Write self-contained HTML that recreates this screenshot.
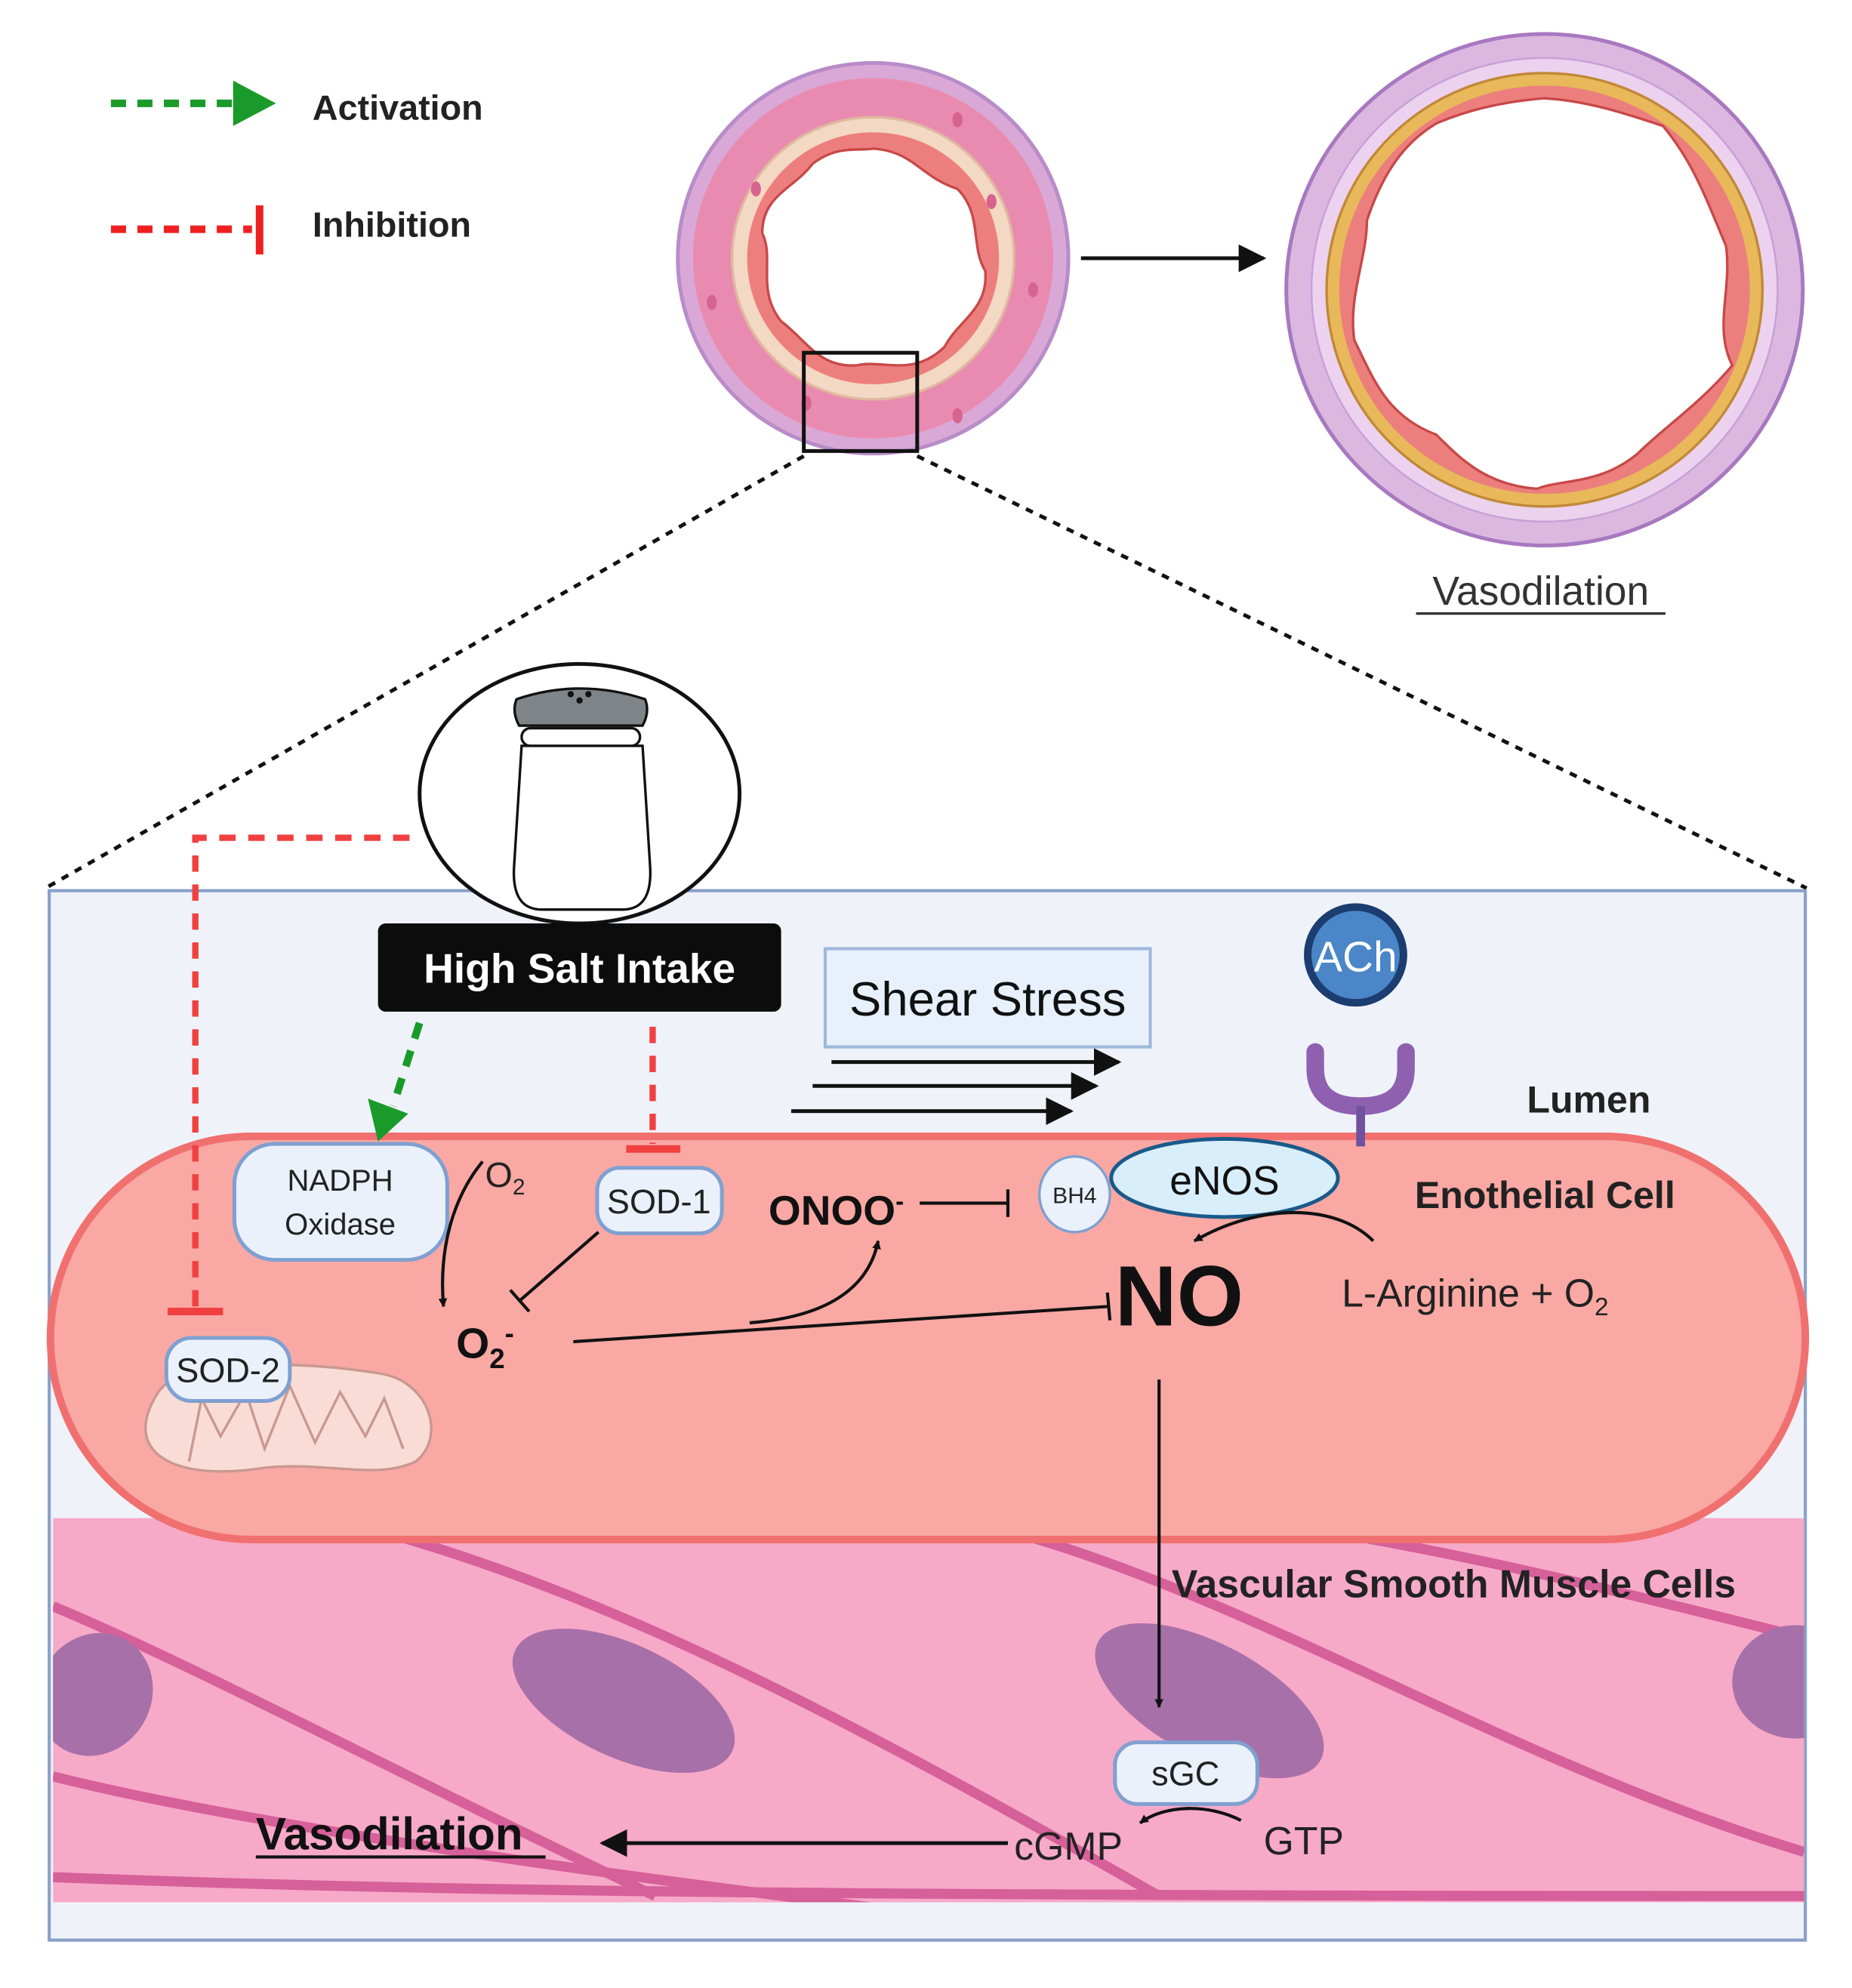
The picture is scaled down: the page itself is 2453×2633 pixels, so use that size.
<!DOCTYPE html>
<html><head><meta charset="utf-8"><style>html,body{margin:0;padding:0;background:#fff}svg{display:block}text{font-family:"Liberation Sans",sans-serif}</style></head>
<body>
<svg width="2453" height="2633" viewBox="0 0 1470 1578" xmlns="http://www.w3.org/2000/svg">
<defs>
<marker id="ah" viewBox="0 0 10 10" refX="9" refY="5" markerWidth="7" markerHeight="7" orient="auto" markerUnits="userSpaceOnUse"><path d="M0,0 L10,5 L0,10z" fill="#111"/></marker>
<marker id="ahb" viewBox="0 0 10 10" refX="9" refY="5" markerWidth="22" markerHeight="22" orient="auto" markerUnits="userSpaceOnUse"><path d="M0,0 L10,5 L0,10z" fill="#111"/></marker>
<clipPath id="smc"><rect x="42" y="1205" width="1390" height="305"/></clipPath>
</defs>
<rect width="1470" height="1578" fill="#fff"/>
<!-- legend -->
<line x1="88" y1="82" x2="185" y2="82" stroke="#1a9a2a" stroke-width="6" stroke-dasharray="12,9"/>
<path d="M185,64 L219,82 L185,100z" fill="#1a9a2a"/>
<text x="248" y="95" font-size="28" font-weight="bold" fill="#222">Activation</text>
<line x1="88" y1="182" x2="200" y2="182" stroke="#f02020" stroke-width="6" stroke-dasharray="12,9"/>
<line x1="206" y1="163" x2="206" y2="202" stroke="#f02020" stroke-width="6"/>
<text x="248" y="188" font-size="28" font-weight="bold" fill="#222">Inhibition</text>
<!-- left vessel -->
<ellipse cx="693" cy="205" rx="155" ry="155" fill="#d9a8d6" stroke="#b88cc8" stroke-width="3"/>
<ellipse cx="693" cy="205" rx="143" ry="143" fill="#e98bb0"/>
<ellipse cx="693" cy="205" rx="112" ry="112" fill="#f3d8c4" stroke="#e0b8a0" stroke-width="2"/>
<ellipse cx="693" cy="205" rx="100" ry="100" fill="#ec7f7d"/>
<path d="M693,118 C725,120 730,140 760,150 C780,170 770,195 782,215 C785,245 760,255 750,275 C725,300 700,285 680,290 C650,292 640,270 620,255 C600,230 615,205 605,185 C605,155 630,150 645,130 C665,115 680,120 693,118z" fill="#fff" stroke="#c84848" stroke-width="2"/>
<g fill="#d7648e"><ellipse cx="600" cy="150" rx="4" ry="6"/><ellipse cx="787" cy="160" rx="4" ry="6"/><ellipse cx="565" cy="240" rx="4" ry="6"/><ellipse cx="820" cy="230" rx="4" ry="6"/><ellipse cx="760" cy="95" rx="4" ry="6"/><ellipse cx="640" cy="320" rx="4" ry="6"/><ellipse cx="760" cy="330" rx="4" ry="6"/></g>
<rect x="638" y="280" width="90" height="78" fill="none" stroke="#111" stroke-width="3"/>
<line x1="858" y1="205" x2="1003" y2="205" stroke="#111" stroke-width="3" marker-end="url(#ahb)"/>
<!-- right vessel -->
<ellipse cx="1226" cy="230" rx="205" ry="203" fill="#dcb8e0" stroke="#a878c0" stroke-width="3"/>
<ellipse cx="1226" cy="230" rx="185" ry="184" fill="#ecd2ee" stroke="#c8a0d8" stroke-width="1.5"/>
<ellipse cx="1226" cy="230" rx="173" ry="172" fill="#e8b85a" stroke="#c08838" stroke-width="2"/>
<ellipse cx="1226" cy="230" rx="163" ry="162" fill="#ec7f7d"/>
<path d="M1226,78 C1260,80 1290,90 1320,100 C1345,130 1355,160 1370,195 C1375,230 1360,260 1375,290 C1350,320 1320,340 1300,360 C1270,385 1240,380 1220,388 C1180,385 1160,365 1140,345 C1100,330 1090,300 1075,270 C1070,235 1085,205 1085,175 C1100,130 1120,110 1140,98 C1170,85 1200,80 1226,78z" fill="#fff" stroke="#c84848" stroke-width="2"/>
<text x="1223" y="480" font-size="32" fill="#333" text-anchor="middle">Vasodilation</text>
<line x1="1124" y1="487" x2="1322" y2="487" stroke="#333" stroke-width="2"/>
<!-- zoom lines -->
<line x1="638" y1="362" x2="36" y2="705" stroke="#111" stroke-width="3" stroke-dasharray="6,6"/>
<line x1="728" y1="362" x2="1434" y2="705" stroke="#111" stroke-width="3" stroke-dasharray="6,6"/>
<!-- main box -->
<rect x="39" y="707" width="1394" height="833" fill="#eff3f9" stroke="#8aa0c8" stroke-width="2.5"/>
<!-- smooth muscle -->
<g clip-path="url(#smc)">
<rect x="42" y="1205" width="1390" height="305" fill="#f7a9c8"/>
<g fill="none" stroke="#d6609a" stroke-width="8">
<path d="M42,1275 C150,1320 300,1400 520,1505"/>
<path d="M42,1410 C200,1450 500,1490 700,1515"/>
<path d="M300,1215 C500,1270 700,1380 920,1505"/>
<path d="M800,1215 C1000,1270 1200,1400 1432,1470"/>
<path d="M1050,1215 C1200,1240 1350,1280 1432,1300"/>
<path d="M42,1490 C300,1500 600,1505 1432,1505"/>
</g>
<g fill="#a870a8">
<ellipse cx="75" cy="1345" rx="45" ry="50" transform="rotate(30 75 1345)"/>
<ellipse cx="495" cy="1350" rx="95" ry="45" transform="rotate(25 495 1350)"/>
<ellipse cx="960" cy="1350" rx="100" ry="45" transform="rotate(28 960 1350)"/>
<ellipse cx="1425" cy="1335" rx="50" ry="45"/>
</g>
</g>
<!-- endothelial cell -->
<rect x="40" y="902" width="1393" height="320" rx="160" fill="#f9a8a4" stroke="#f07070" stroke-width="6"/>
<!-- salt shaker -->
<ellipse cx="460" cy="630" rx="127" ry="103" fill="#fff" stroke="#111" stroke-width="3"/>
<path d="M414,592 L408,688 Q406,722 430,722 L494,722 Q518,722 516,688 L510,592z" fill="#fff" stroke="#111" stroke-width="2"/>
<rect x="414" y="578" width="94" height="14" rx="7" fill="#fff" stroke="#111" stroke-width="2"/>
<path d="M412,576 Q406,565 410,555 Q460,538 512,555 Q516,565 510,576z" fill="#7e8488" stroke="#111" stroke-width="2"/>
<g fill="#111"><circle cx="453" cy="551" r="2.5"/><circle cx="460" cy="556" r="2.5"/><circle cx="467" cy="551" r="2.5"/></g>
<rect x="300" y="733" width="320" height="70" rx="6" fill="#0c0c0c"/>
<text x="460" y="780" font-size="33" font-weight="bold" fill="#fff" text-anchor="middle">High Salt Intake</text>
<!-- shear stress -->
<rect x="655" y="753" width="258" height="78" fill="#e8f0fb" stroke="#9fb8dc" stroke-width="2.5"/>
<text x="784" y="806" font-size="38" fill="#111" text-anchor="middle">Shear Stress</text>
<line x1="660" y1="843" x2="888" y2="843" stroke="#111" stroke-width="3" marker-end="url(#ahb)"/>
<line x1="645" y1="862" x2="870" y2="862" stroke="#111" stroke-width="3" marker-end="url(#ahb)"/>
<line x1="628" y1="882" x2="850" y2="882" stroke="#111" stroke-width="3" marker-end="url(#ahb)"/>
<!-- ACh & receptor -->
<circle cx="1076" cy="758" r="38" fill="#4a86c8" stroke="#1c3d70" stroke-width="6"/>
<text x="1076" y="771" font-size="34" fill="#fff" text-anchor="middle">ACh</text>
<path d="M1044,835 L1044,848 Q1044,878 1080,878 Q1116,878 1116,848 L1116,835" fill="none" stroke="#9060b0" stroke-width="14" stroke-linecap="round"/>
<line x1="1080" y1="878" x2="1080" y2="910" stroke="#7050a0" stroke-width="7"/>
<text x="1212" y="883" font-size="30" font-weight="bold" fill="#222">Lumen</text>
<!-- inhibition/activation from salt -->
<polyline points="325,665 155,665 155,1040" fill="none" stroke="#f04040" stroke-width="5" stroke-dasharray="13,10"/>
<line x1="133" y1="1041" x2="177" y2="1041" stroke="#f04040" stroke-width="6"/>
<line x1="518" y1="815" x2="518" y2="908" stroke="#f04040" stroke-width="5" stroke-dasharray="13,10"/>
<line x1="497" y1="912" x2="540" y2="912" stroke="#f04040" stroke-width="6"/>
<line x1="333" y1="812" x2="312" y2="878" stroke="#1a9a2a" stroke-width="6" stroke-dasharray="13,10"/>
<path d="M292,872 L324,884 L300,906z" fill="#1a9a2a"/>
<!-- NADPH -->
<rect x="186" y="908" width="169" height="92" rx="32" fill="#eaf1fb" stroke="#7fa0d0" stroke-width="3"/>
<text x="270" y="945" font-size="24" fill="#222" text-anchor="middle">NADPH</text>
<text x="270" y="980" font-size="24" fill="#222" text-anchor="middle">Oxidase</text>
<text x="385" y="942" font-size="28" fill="#222">O<tspan font-size="18" dy="6">2</tspan></text>
<path d="M383,922 C360,950 348,990 352,1037" fill="none" stroke="#111" stroke-width="2.5" marker-end="url(#ah)"/>
<!-- SOD-1 -->
<rect x="474" y="927" width="99" height="52" rx="18" fill="#eaf1fb" stroke="#7fa0d0" stroke-width="3"/>
<text x="523" y="963" font-size="27" fill="#222" text-anchor="middle">SOD-1</text>
<line x1="475" y1="978" x2="413" y2="1032" stroke="#111" stroke-width="2.5"/>
<line x1="405" y1="1024" x2="420" y2="1041" stroke="#111" stroke-width="2.5"/>
<!-- ONOO -->
<text x="610" y="972" font-size="33" font-weight="bold" fill="#111">ONOO<tspan font-size="20" dy="-12">-</tspan></text>
<line x1="730" y1="955" x2="800" y2="955" stroke="#111" stroke-width="2.5"/>
<line x1="800" y1="944" x2="800" y2="966" stroke="#111" stroke-width="2.5"/>
<!-- BH4 eNOS -->
<ellipse cx="972" cy="935" rx="90" ry="31" fill="#d8eefa" stroke="#1a5a8a" stroke-width="3"/>
<text x="972" y="948" font-size="32" fill="#111" text-anchor="middle">eNOS</text>
<ellipse cx="853" cy="948" rx="28" ry="30" fill="#eaf1fb" stroke="#7fa0d0" stroke-width="2"/>
<text x="853" y="955" font-size="18" fill="#222" text-anchor="middle">BH4</text>
<text x="1123" y="959" font-size="30" font-weight="bold" fill="#222">Enothelial Cell</text>
<path d="M1090,985 C1060,955 1000,955 948,985" fill="none" stroke="#111" stroke-width="2.5" marker-end="url(#ah)"/>
<text x="885" y="1052" font-size="68" font-weight="bold" fill="#111">NO</text>
<text x="1065" y="1037" font-size="31" fill="#222">L-Arginine + O<tspan font-size="20" dy="7">2</tspan></text>
<!-- O2- -->
<text x="362" y="1078" font-size="34" font-weight="bold" fill="#111">O<tspan font-size="22" dy="8">2</tspan><tspan font-size="22" dy="-20">-</tspan></text>
<line x1="455" y1="1065" x2="880" y2="1037" stroke="#111" stroke-width="2.5"/>
<line x1="879" y1="1026" x2="881" y2="1048" stroke="#111" stroke-width="2.5"/>
<path d="M595,1050 C660,1045 690,1020 697,985" fill="none" stroke="#111" stroke-width="2.5" marker-end="url(#ah)"/>
<!-- mitochondria & SOD-2 -->
<path d="M120,1115 C100,1160 150,1175 210,1165 C260,1160 300,1175 330,1160 C355,1140 340,1095 300,1090 C250,1082 190,1080 150,1090 C130,1095 125,1105 120,1115z" fill="#f9dcd6" stroke="#c89890" stroke-width="2"/>
<path d="M150,1160 L160,1110 L175,1140 L195,1105 L210,1150 L230,1100 L250,1145 L270,1105 L290,1140 L305,1110 L320,1150" fill="none" stroke="#c89890" stroke-width="2"/>
<rect x="132" y="1062" width="98" height="50" rx="20" fill="#eaf1fb" stroke="#7fa0d0" stroke-width="3"/>
<text x="181" y="1097" font-size="27" fill="#222" text-anchor="middle">SOD-2</text>
<!-- NO to sGC -->
<line x1="920" y1="1095" x2="920" y2="1355" stroke="#111" stroke-width="2.5" marker-end="url(#ah)"/>
<text x="930" y="1268" font-size="31" font-weight="bold" fill="#222">Vascular Smooth Muscle Cells</text>
<rect x="885" y="1383" width="113" height="49" rx="18" fill="#eaf1fb" stroke="#7fa0d0" stroke-width="3"/>
<text x="941" y="1417" font-size="27" fill="#222" text-anchor="middle">sGC</text>
<text x="805" y="1476" font-size="31" fill="#222">cGMP</text>
<text x="1003" y="1472" font-size="31" fill="#222">GTP</text>
<path d="M985,1445 C960,1432 925,1432 905,1447" fill="none" stroke="#111" stroke-width="2.5" marker-end="url(#ah)"/>
<line x1="800" y1="1463" x2="478" y2="1463" stroke="#111" stroke-width="3" marker-end="url(#ahb)"/>
<text x="203" y="1468" font-size="36" font-weight="bold" fill="#111">Vasodilation</text>
<line x1="203" y1="1474" x2="433" y2="1474" stroke="#111" stroke-width="2.5"/>
</svg>
</body></html>
